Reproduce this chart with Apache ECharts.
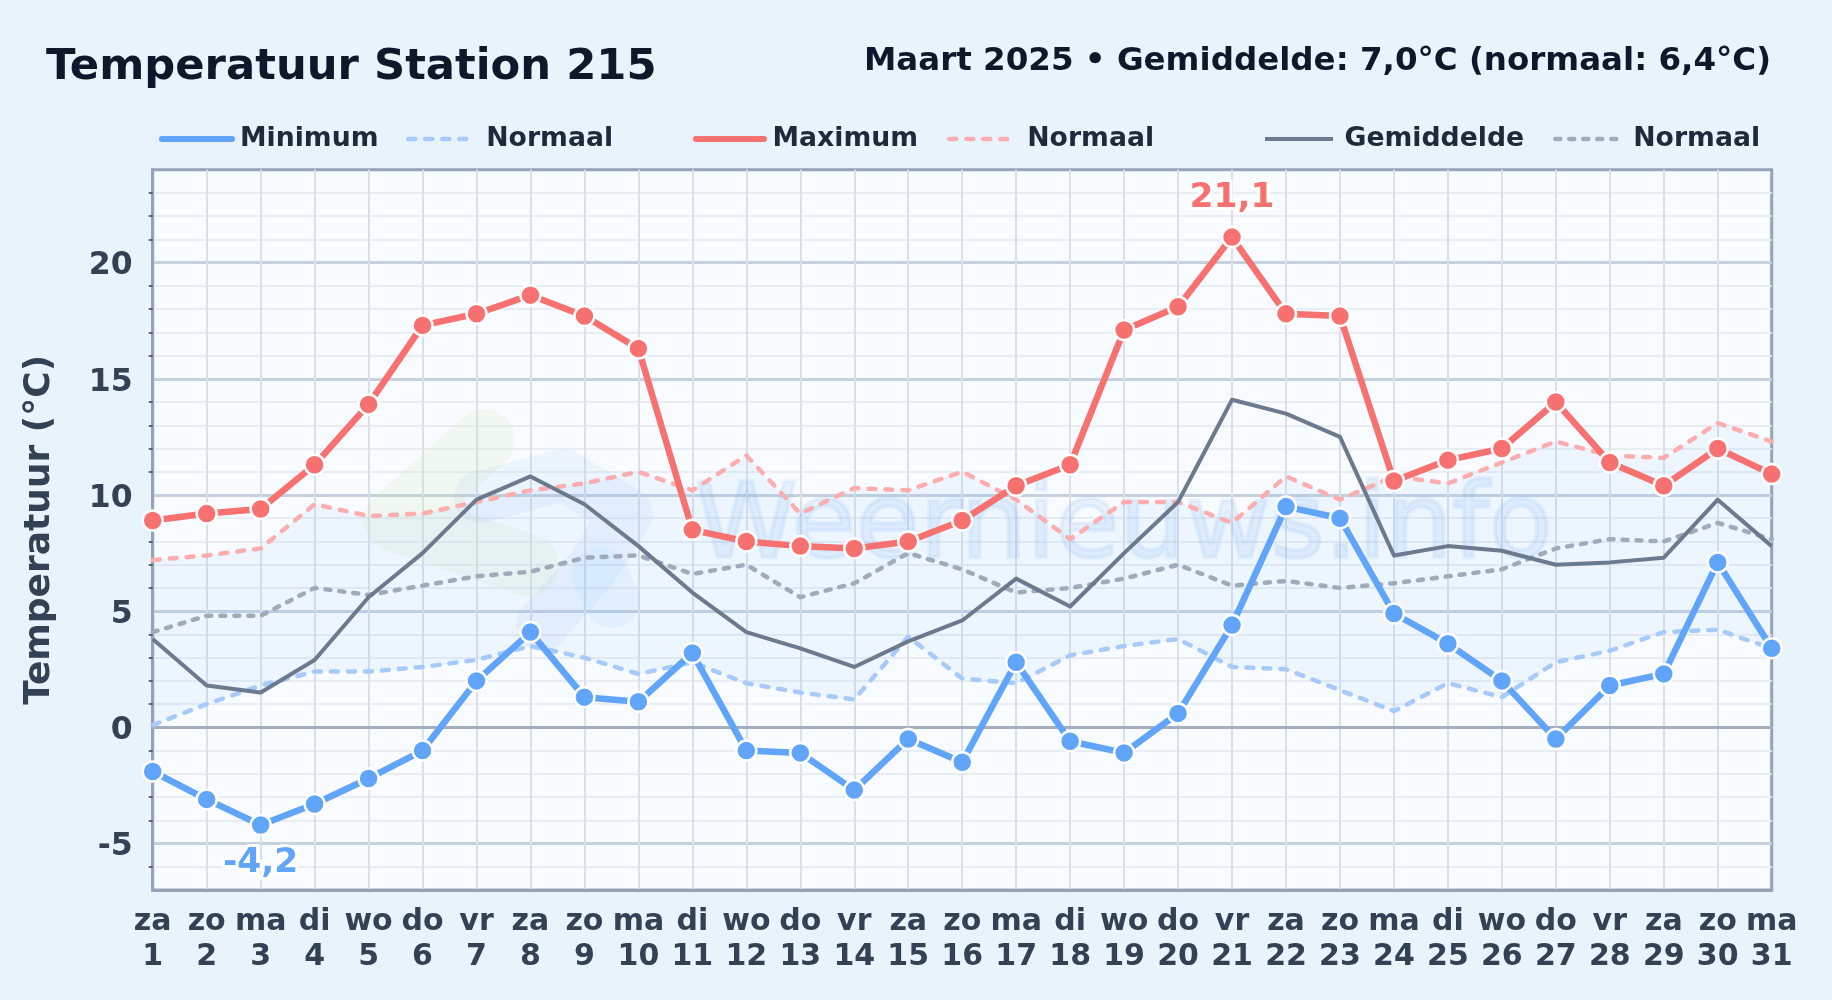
<!DOCTYPE html>
<html><head><meta charset="utf-8">
<style>html,body{margin:0;padding:0;background:#e9f3fc}#c{width:1832px;height:1000px}</style>
<script src="https://cdn.jsdelivr.net/npm/echarts@6/dist/echarts.min.js"></script>
</head><body><div id="c"></div>
<script>
const days = ['za','zo','ma','di','wo','do','vr','za','zo','ma','di','wo','do','vr','za','zo','ma','di','wo','do','vr','za','zo','ma','di','wo','do','vr','za','zo','ma'];
const dates = [1,2,3,4,5,6,7,8,9,10,11,12,13,14,15,16,17,18,19,20,21,22,23,24,25,26,27,28,29,30,31];
const minimum = [-1.9,-3.1,-4.2,-3.3,-2.2,-1.0,2.0,4.1,1.3,1.1,3.2,-1.0,-1.1,-2.7,-0.5,-1.5,2.8,-0.6,-1.1,0.6,4.4,9.5,9.0,4.9,3.6,2.0,-0.5,1.8,2.3,7.1,3.4];
const maximum = [8.9,9.2,9.4,11.3,13.9,17.3,17.8,18.6,17.7,16.3,8.5,8.0,7.8,7.7,8.0,8.9,10.4,11.3,17.1,18.1,21.1,17.8,17.7,10.6,11.5,12.0,14.0,11.4,10.4,12.0,10.9];
const mean = [3.8,1.8,1.5,2.9,5.6,7.5,9.8,10.8,9.6,7.8,5.8,4.1,3.4,2.6,3.7,4.6,6.4,5.2,7.5,9.7,14.1,13.5,12.5,7.4,7.8,7.6,7.0,7.1,7.3,9.8,7.8];
const normalMin = [0.1,1.0,1.8,2.4,2.4,2.6,2.9,3.5,3.0,2.3,2.8,1.9,1.5,1.2,3.9,2.1,1.9,3.1,3.5,3.8,2.6,2.5,1.6,0.7,1.9,1.3,2.8,3.3,4.1,4.2,3.4];
const normalMax = [7.2,7.4,7.7,9.6,9.1,9.2,9.7,10.2,10.5,11.0,10.2,11.7,9.2,10.3,10.2,11.0,9.8,8.1,9.7,9.7,8.8,10.8,9.8,10.8,10.5,11.4,12.3,11.7,11.6,13.1,12.3];
const normalMean = [4.1,4.8,4.8,6.0,5.7,6.1,6.5,6.7,7.3,7.4,6.6,7.0,5.6,6.2,7.5,6.8,5.8,6.0,6.4,7.0,6.1,6.3,6.0,6.2,6.5,6.8,7.7,8.1,8.0,8.8,8.1];

const F = 'DejaVu Sans';
const BLUE='#60a5fa', RED='#f87171', GRAY='#6b7a8f';
const NBLUE='#a6cbfb', NRED='#fcaeae', NGRAY='#9fabba';
const DASH=[7,10], DASHG=[5,9];
const categories = days.map((d,i)=>d+'\n'+dates[i]);

function labelled(values, idx, text, color, pos, dist){
  return values.map((v,i)=> i===idx ? {value:v,label:{show:true,position:pos,distance:dist,formatter:text,color:color,fontFamily:F,fontWeight:'bold',fontSize:34.5,textBorderColor:'#ffffff',textBorderWidth:6}} : v);
}
function solid(name,data,color){
  return {name,type:'line',data,clip:false,z:5,symbol:'circle',symbolSize:20,showSymbol:true,
    lineStyle:{color,width:6.5,cap:'round',join:'round'},
    itemStyle:{color,borderColor:'#fff',borderWidth:2.5,opacity:1},emphasis:{disabled:true}};
}
function dashed(name,data,color,dash){
  return {name,type:'line',data,z:3,symbol:'none',showSymbol:false,
    lineStyle:{color,width:4.5,type:dash,cap:'round',join:'round'},emphasis:{disabled:true}};
}
function leg(name,text,left,w,pad,ls){
  return {show:true,left,top:125.5,padding:0,itemWidth:w,itemHeight:30,data:[{name}],formatter:text,selectedMode:false,
    itemStyle:{opacity:0},lineStyle:ls,
    textStyle:{color:'#1e293b',fontFamily:F,fontWeight:'bold',fontSize:26.7,padding:[0,0,0,pad]}};
}

const chart = echarts.init(document.getElementById('c'),null,{renderer:'canvas',width:1832,height:1000});
chart.setOption({
  animation:false,
  backgroundColor:'#e9f3fc',
  title:[
    {text:'Temperatuur Station 215',left:46,top:46,padding:0,textStyle:{color:'#0f172a',fontFamily:F,fontWeight:'bold',fontSize:43.3}},
    {text:'Maart 2025 • Gemiddelde: 7,0°C (normaal: 6,4°C)',right:61,top:45,padding:0,textStyle:{color:'#0f172a',fontFamily:F,fontWeight:'bold',fontSize:32.5}}
  ],
  legend:[
    leg('Minimum','Minimum',159,70,3,{width:6,color:BLUE,cap:'round'}),
    leg('Normaal min','Normaal',406,58,15,{width:4.5,color:NBLUE,type:DASH,cap:'round'}),
    leg('Maximum','Maximum',693,68,3.5,{width:6,color:RED,cap:'round'}),
    leg('Normaal max','Normaal',947,59,14,{width:4.5,color:NRED,type:DASH,cap:'round'}),
    leg('Gemiddelde','Gemiddelde',1263,68,6.5,{width:4,color:GRAY}),
    leg('Normaal gemiddeld','Normaal',1553,65,8,{width:4.5,color:NGRAY,type:DASHG,cap:'round'})
  ],
  grid:{left:152.7,right:60.3,top:169.7,bottom:110,show:true,backgroundColor:'#f8fbff',borderColor:'#94a3b8',borderWidth:3},
  graphic:{elements:[
    {type:'polyline',silent:true,z:1,shape:{points:[[484,440],[395,520],[528,565]]},style:{stroke:'rgba(205,228,170,0.16)',fill:null,lineWidth:62,lineCap:'round',lineJoin:'round'}},
    {type:'polyline',silent:true,z:1,shape:{points:[[480,497],[564,475],[627,513],[591,570],[542,625]]},style:{stroke:'rgba(120,175,240,0.09)',fill:null,lineWidth:52,lineCap:'round',lineJoin:'round'}},
    {type:'polyline',silent:true,z:1,shape:{points:[[600,575],[612,600]]},style:{stroke:'rgba(120,185,250,0.09)',fill:null,lineWidth:56,lineCap:'round',lineJoin:'round'}},
    {type:'text',silent:true,z:1,x:695,y:478,style:{text:'Weernieuws.info',fontFamily:F,fontSize:104,fontWeight:'normal',fill:'rgba(110,170,240,0.12)',stroke:'rgba(110,170,240,0.10)',lineWidth:4,shadowColor:'rgba(96,165,250,0.25)',shadowBlur:6}}
  ]},
  xAxis:{type:'category',boundaryGap:false,data:categories,
    axisLine:{onZero:false,show:true,lineStyle:{color:'#94a3b8',width:3}},
    axisTick:{show:false},
    axisLabel:{interval:0,color:'#334155',fontFamily:F,fontWeight:'bold',fontSize:30,lineHeight:35,margin:15,hideOverlap:false,showMinLabel:true,showMaxLabel:true},
    splitLine:{show:true,interval:0,showMinLine:false,showMaxLine:false,lineStyle:{color:'#d9e0ea',width:2}}
  },
  yAxis:{type:'value',min:-7,max:24,splitNumber:6,
    name:'Temperatuur (°C)',nameLocation:'middle',nameRotate:90,nameGap:95,
    nameTextStyle:{color:'#334155',fontFamily:F,fontWeight:'bold',fontSize:36},
    axisLine:{show:true,lineStyle:{color:'#94a3b8',width:3}},
    axisTick:{show:false},
    minorTick:{show:true,splitNumber:5,length:4,lineStyle:{color:'#334155',width:1.5}},
    axisLabel:{showMinLabel:false,showMaxLabel:false,color:'#334155',fontFamily:F,fontWeight:'bold',fontSize:31.5,margin:20,formatter:'{v|{value}}',rich:{v:{color:'#334155',fontFamily:F,fontWeight:'bold',fontSize:31.5,padding:[7,0,0,0]}}},
    splitLine:{show:true,showMinLine:false,showMaxLine:false,lineStyle:{color:'#c6d1e0',width:3}},
    minorSplitLine:{show:true,lineStyle:{color:'#e8edf4',width:2}}
  },
  series:[
    {name:'band basis',type:'line',stack:'band',data:normalMin,symbol:'none',lineStyle:{opacity:0},areaStyle:{opacity:0},z:2,silent:true,
      markLine:{silent:true,symbol:'none',label:{show:false},animation:false,z:2,lineStyle:{color:'#a3aec0',width:3,type:'solid'},data:[{yAxis:0}]}},
    {name:'band',type:'line',stack:'band',data:normalMax.map((v,i)=>+(v-normalMin[i]).toFixed(1)),symbol:'none',lineStyle:{opacity:0},areaStyle:{color:'rgba(96,165,250,0.095)',origin:'start'},z:2,silent:true},
    dashed('Normaal min',normalMin,NBLUE,DASH),
    dashed('Normaal max',normalMax,NRED,DASH),
    dashed('Normaal gemiddeld',normalMean,NGRAY,DASHG),
    {name:'Gemiddelde',type:'line',data:mean,z:4,symbol:'none',showSymbol:false,lineStyle:{color:GRAY,width:4,join:'round'},emphasis:{disabled:true}},
    solid('Minimum',labelled(minimum,2,'-4,2',BLUE,'bottom',9),BLUE),
    solid('Maximum',labelled(maximum,20,'21,1',RED,'top',10),RED)
  ]
});
</script></body></html>
